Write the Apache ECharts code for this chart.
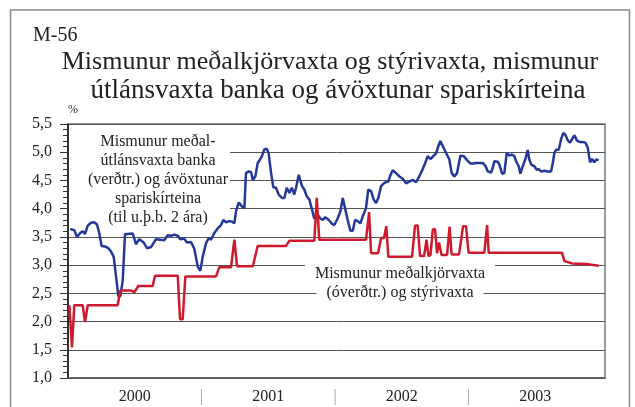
<!DOCTYPE html>
<html>
<head>
<meta charset="utf-8">
<script src="https://cdn.jsdelivr.net/npm/echarts@6/dist/echarts.min.js"></script>
<style>
  html, body { margin: 0; padding: 0; background: #fff; }
  #chart { width: 635px; height: 407px; }
</style>
</head>
<body>
<div id="chart"></div>
<script>
// decimal years
const lendingDates = [
  2000.017, 2000.047, 2000.067, 2000.092, 2000.110, 2000.127, 2000.148, 2000.172, 2000.197, 2000.217,
  2000.234, 2000.252, 2000.277, 2000.302, 2000.322, 2000.342, 2000.360, 2000.377, 2000.392, 2000.410,
  2000.427, 2000.447, 2000.485, 2000.509, 2000.534, 2000.547, 2000.567, 2000.592, 2000.622, 2000.659,
  2000.691, 2000.721, 2000.747, 2000.772, 2000.796, 2000.822, 2000.841, 2000.871, 2000.891, 2000.921,
  2000.946, 2000.972, 2000.991, 2001.009, 2001.034, 2001.054, 2001.071, 2001.096, 2001.121, 2001.146,
  2001.163, 2001.184, 2001.208, 2001.228, 2001.246, 2001.258, 2001.279, 2001.303, 2001.321, 2001.333,
  2001.354, 2001.371, 2001.384, 2001.403, 2001.421, 2001.438, 2001.453, 2001.470, 2001.488, 2001.503,
  2001.521, 2001.538, 2001.558, 2001.578, 2001.603, 2001.621, 2001.638, 2001.658, 2001.676, 2001.695,
  2001.708, 2001.728, 2001.753, 2001.770, 2001.788, 2001.808, 2001.828, 2001.845, 2001.863, 2001.888,
  2001.908, 2001.927, 2001.953, 2001.978, 2001.995, 2002.020, 2002.040, 2002.058, 2002.075, 2002.095,
  2002.115, 2002.133, 2002.150, 2002.170, 2002.190, 2002.207, 2002.232, 2002.249, 2002.270, 2002.290,
  2002.307, 2002.324, 2002.345, 2002.365, 2002.382, 2002.399, 2002.414, 2002.432, 2002.457, 2002.482,
  2002.507, 2002.532, 2002.557, 2002.582, 2002.607, 2002.624, 2002.649, 2002.674, 2002.694, 2002.714,
  2002.732, 2002.757, 2002.774, 2002.789, 2002.807, 2002.831, 2002.856, 2002.874, 2002.894, 2002.914,
  2002.939, 2002.964, 2002.989, 2003.013, 2003.039, 2003.056, 2003.081, 2003.106, 2003.126, 2003.144,
  2003.169, 2003.181, 2003.193, 2003.219, 2003.231, 2003.251, 2003.268, 2003.286, 2003.306, 2003.326,
  2003.343, 2003.356, 2003.376, 2003.388, 2003.406, 2003.426, 2003.443, 2003.455, 2003.470, 2003.493,
  2003.511, 2003.526, 2003.543, 2003.568, 2003.593, 2003.618, 2003.631, 2003.643, 2003.655, 2003.676,
  2003.693, 2003.710, 2003.725, 2003.743, 2003.760, 2003.775, 2003.793, 2003.811, 2003.831, 2003.855,
  2003.875, 2003.893, 2003.910, 2003.925, 2003.942, 2003.955, 2003.975
];
const lendingSpread = [
  3.64, 3.62, 3.50, 3.57, 3.60, 3.55, 3.70, 3.75, 3.76, 3.72,
  3.57, 3.34, 3.33, 3.30, 3.24, 3.15, 2.79, 2.45, 2.45, 2.73,
  3.55, 3.55, 3.56, 3.37, 3.46, 3.48, 3.40, 3.30, 3.32, 3.46,
  3.45, 3.44, 3.53, 3.52, 3.54, 3.52, 3.46, 3.47, 3.40, 3.41,
  3.29, 2.97, 2.90, 3.15, 3.39, 3.48, 3.45, 3.57, 3.65, 3.71,
  3.80, 3.76, 3.78, 3.77, 3.74, 3.95, 4.11, 4.04, 4.01, 4.63,
  4.66, 4.65, 4.51, 4.57, 4.81, 4.87, 4.93, 5.05, 5.06, 4.98,
  4.63, 4.38, 4.37, 4.25, 4.19, 4.19, 4.37, 4.28, 4.37, 4.25,
  4.37, 4.60, 4.40, 4.34, 4.22, 4.16, 3.98, 3.82, 3.92, 3.83,
  3.80, 3.85, 3.80, 3.73, 3.71, 3.83, 3.95, 4.19, 4.01, 3.80,
  3.61, 3.61, 3.80, 3.78, 3.74, 3.86, 4.01, 4.34, 4.31, 4.16,
  4.10, 4.19, 4.40, 4.45, 4.47, 4.48, 4.59, 4.68, 4.63, 4.57,
  4.53, 4.45, 4.48, 4.51, 4.47, 4.54, 4.66, 4.80, 4.93, 4.88,
  4.92, 4.98, 5.11, 5.20, 5.11, 4.99, 4.87, 4.63, 4.57, 4.63,
  4.94, 4.93, 4.86, 4.80, 4.80, 4.81, 4.81, 4.81, 4.76, 4.66,
  4.64, 4.72, 4.84, 4.83, 4.78, 4.62, 4.63, 4.99, 4.94, 4.96,
  4.93, 4.84, 4.75, 4.62, 4.75, 4.88, 5.04, 4.87, 4.78, 4.75,
  4.69, 4.70, 4.66, 4.67, 4.66, 4.66, 4.81, 4.99, 5.04, 5.05,
  5.23, 5.34, 5.31, 5.21, 5.17, 5.23, 5.30, 5.21, 5.18, 5.18,
  5.17, 5.08, 4.82, 4.88, 4.82, 4.87, 4.86
];

const policyDates = [
  2000.010, 2000.030, 2000.047, 2000.110, 2000.127, 2000.148, 2000.372, 2000.392, 2000.472, 2000.497,
  2000.527, 2000.634, 2000.652, 2000.822, 2000.839, 2000.859, 2000.879, 2001.109, 2001.133, 2001.221,
  2001.246, 2001.266, 2001.384, 2001.421, 2001.633, 2001.658, 2001.845, 2001.863, 2001.882, 2002.232,
  2002.255, 2002.270, 2002.322, 2002.345, 2002.367, 2002.384, 2002.399, 2002.577, 2002.599, 2002.619,
  2002.637, 2002.667, 2002.685, 2002.700, 2002.715, 2002.732, 2002.749, 2002.764, 2002.779, 2002.798,
  2002.839, 2002.858, 2002.873, 2002.929, 2002.959, 2002.981, 2003.000, 2003.118, 2003.139, 2003.151,
  2003.700, 2003.718, 2003.775, 2003.880, 2003.893, 2003.975
];
const policySpread = [
  2.29, 1.54, 2.29, 2.29, 1.99, 2.29, 2.29, 2.55, 2.55, 2.52,
  2.63, 2.63, 2.81, 2.81, 2.04, 2.04, 2.80, 2.80, 2.96, 2.96,
  3.45, 2.98, 2.98, 3.34, 3.34, 3.43, 3.43, 4.19, 3.45, 3.45,
  3.94, 3.21, 3.21, 3.48, 3.48, 3.69, 3.15, 3.15, 3.70, 3.70,
  3.16, 3.16, 3.45, 3.16, 3.18, 3.63, 3.64, 3.21, 3.40, 3.18,
  3.18, 3.68, 3.19, 3.19, 3.69, 3.69, 3.22, 3.22, 3.71, 3.22,
  3.22, 3.07, 3.03, 3.02, 3.00, 2.99
];

const yearLabels = ["2000", "2001", "2002", "2003"];
const yearMids = [2000.5, 2001.5, 2002.5, 2003.5];
const yearBreaks = [2001, 2002, 2003];

const serif = "Liberation Serif";

const chart = echarts.init(document.getElementById("chart"));

const option = {
  backgroundColor: "#fff",
  animation: false,
  grid: {
    left: 68,
    right: 30,
    top: 124,
    bottom: 29,
    show: true,
    borderColor: "#777",
    borderWidth: 1.5,
    outerBoundsMode: "none",
  },
  xAxis: {
    type: "value",
    min: 2000,
    max: 2004.022,
    axisLine: { lineStyle: { color: "#555", width: 1.5 } },
    axisTick: { show: false },
    splitLine: { show: false },
    axisLabel: {
      customValues: yearMids.concat(yearBreaks),
      formatter: (v) => {
        const i = yearMids.indexOf(v);
        return i >= 0 ? yearLabels[i] : "{s||}";
      },
      rich: { s: { color: "#999", fontFamily: serif, fontSize: 16 } },
      color: "#222",
      fontFamily: serif,
      fontSize: 16,
      margin: 11,
    },
  },
  yAxis: {
    type: "value",
    min: 1,
    max: 5.5,
    interval: 0.5,
    axisLine: { show: true, lineStyle: { color: "#111", width: 1.5 } },
    axisTick: { show: true, length: 8, lineStyle: { color: "#333" } },
    minorTick: { show: true, splitNumber: 5, length: 5, lineStyle: { color: "#333" } },
    splitLine: { lineStyle: { color: "#555", width: 1 } },
    axisLabel: {
      formatter: (v) => v.toFixed(1).replace(".", ","),
      color: "#222",
      fontFamily: serif,
      fontSize: 16,
      margin: 16,
    },
  },
  series: [
    {
      type: "line",
      data: lendingDates.map((d, i) => [d, lendingSpread[i]]),
      showSymbol: false,
      lineStyle: { color: "#25389a", width: 2.5 },
      z: 3,
    },
    {
      type: "line",
      data: policyDates.map((d, i) => [d, policySpread[i]]),
      showSymbol: false,
      lineStyle: { color: "#cf1a2d", width: 2.5 },
      z: 3,
    },
  ],
  graphic: [
    {
      type: "rect",
      shape: { x: 10.5, y: 10, width: 619, height: 420 },
      style: { fill: "none", stroke: "#888", lineWidth: 1.5 },
      z: 10,
    },
    {
      type: "text",
      x: 33, y: 36,
      style: { text: "M-56", font: `20px "${serif}"`, fill: "#222", textVerticalAlign: "middle" },
    },
    {
      type: "text",
      x: 330, y: 62,
      style: {
        text: "Mismunur meðalkjörvaxta og stýrivaxta, mismunur",
        font: `26px "${serif}"`, fill: "#222", textAlign: "center", textVerticalAlign: "middle",
      },
    },
    {
      type: "text",
      x: 338, y: 91,
      style: {
        text: "útlánsvaxta banka og ávöxtunar spariskírteina",
        font: `27px "${serif}"`, fill: "#222", textAlign: "center", textVerticalAlign: "middle",
      },
    },
    {
      type: "text",
      x: 68, y: 110,
      style: { text: "%", font: `12px "${serif}"`, fill: "#222", textVerticalAlign: "middle" },
    },
    {
      type: "rect",
      shape: { x: 69, y: 130, width: 161, height: 96 },
      style: { fill: "#fff" },
      z: 1,
    },
    {
      type: "text",
      x: 158, y: 180,
      z: 1,
      style: {
        text: "Mismunur meðal-\nútlánsvaxta banka\n(verðtr.) og ávöxtunar\nspariskírteina\n(til u.þ.b. 2 ára)",
        font: `16px "${serif}"`, lineHeight: 19, fill: "#222",
        textAlign: "center", textVerticalAlign: "middle",
      },
    },
    {
      type: "text",
      x: 400, y: 274,
      z: 1,
      style: {
        text: "Mismunur meðalkjörvaxta",
        font: `16px "${serif}"`, fill: "#222", textAlign: "center", textVerticalAlign: "middle",
        backgroundColor: "#fff", padding: [3, 10],
      },
    },
    {
      type: "text",
      x: 400, y: 293,
      z: 1,
      style: {
        text: "(óverðtr.) og stýrivaxta",
        font: `16px "${serif}"`, fill: "#222", textAlign: "center", textVerticalAlign: "middle",
        backgroundColor: "#fff", padding: [2, 10],
      },
    },
  ],
};

chart.setOption(option);
</script>
</body>
</html>
